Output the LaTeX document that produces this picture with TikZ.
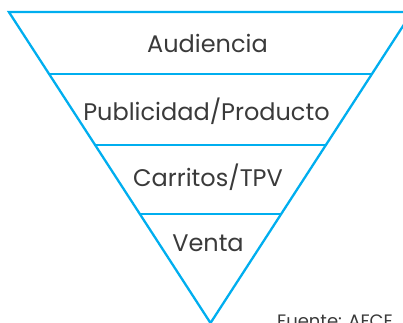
\documentclass[tikz,border=0pt]{standalone}
\usepackage{fontspec}
\setmainfont{Poppins}
\definecolor{funnel}{RGB}{0,174,239}
\definecolor{ink}{RGB}{58,58,58}
\begin{document}
\begin{tikzpicture}[x=1pt,y=-1pt,
  edge/.style={draw=funnel,line width=2.3pt,line join=miter},
  sep/.style={draw=funnel,line width=2.3pt},
  label/.style={text=ink,font=\fontsize{24}{28}\selectfont,anchor=base,inner sep=0pt},
  src/.style={text=ink,font=\fontsize{18}{22}\selectfont,anchor=base west,inner sep=0pt}]
\useasboundingbox (0,0) rectangle (403,322);
% apex and top corners
\coordinate (apex) at (210.5,323);
\coordinate (tl) at (8.9,12);
\coordinate (tr) at (412.1,12);
\draw[edge] (tr) -- (tl) -- (apex) -- cycle;
% separators
\path (apex) -- (tl) coordinate[pos=0.8006] (l1) coordinate[pos=0.5723] (l2) coordinate[pos=0.3505] (l3);
\path (apex) -- (tr) coordinate[pos=0.8006] (r1) coordinate[pos=0.5723] (r2) coordinate[pos=0.3505] (r3);
\draw[sep] (l1) -- (r1);
\draw[sep] (l2) -- (r2);
\draw[sep] (l3) -- (r3);
\node[label] (aud) at (207.5,52) {Audiencia};
\node[label] (pub) at (206.5,120) {Publicidad/Producto};
\node[label] (car) at (208,186) {Carritos/TPV};
\node[label] (ven) at (208,251) {Venta};
\node[src] (fuente) at (277,327) {Fuente: AFCE};
\end{tikzpicture}
\end{document}
